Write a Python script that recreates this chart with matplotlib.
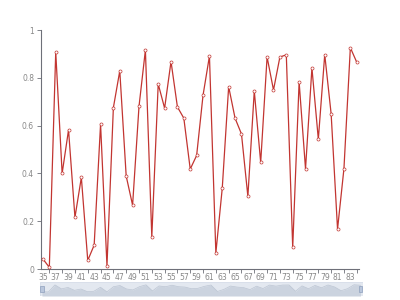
import matplotlib
matplotlib.use("Agg")
import matplotlib.pyplot as plt
from matplotlib.patches import Rectangle

categories = list(range(35, 85))
values = [0.042, 0.007, 0.908, 0.40, 0.582, 0.216, 0.383, 0.036, 0.10, 0.606,
          0.014, 0.675, 0.829, 0.389, 0.267, 0.68, 0.916, 0.134, 0.774, 0.673,
          0.868, 0.678, 0.631, 0.418, 0.475, 0.727, 0.891, 0.067, 0.338, 0.763,
          0.631, 0.565, 0.304, 0.745, 0.446, 0.887, 0.749, 0.887, 0.896, 0.09,
          0.783, 0.419, 0.841, 0.543, 0.897, 0.649, 0.167, 0.42, 0.926, 0.865]
y_ticks = [0, 0.2, 0.4, 0.6, 0.8, 1]
y_labels = ["0", "0.2", "0.4", "0.6", "0.8", "1"]

line_color = "#c23531"
axis_color = "#6e7079"
text_color = "#888888"

fig = plt.figure(figsize=(4, 3), dpi=100)
ax = fig.add_axes([0.1025, 0.1033, 0.795, 0.7967])
ax.plot(categories, values, color=line_color, lw=0.9, marker="o", ms=2.2,
        mfc="white", mec=line_color, mew=0.5, zorder=3, clip_on=False)
ax.set_xlim(34.7, 84.35)
ax.set_ylim(0, 1)
for s in ["top", "right"]:
    ax.spines[s].set_visible(False)
for s in ["left", "bottom"]:
    ax.spines[s].set_color(axis_color)
    ax.spines[s].set_linewidth(0.8)

ax.set_yticks(y_ticks)
ax.set_yticklabels(y_labels)
odd = [c for c in categories if c % 2 == 1]
even = [c for c in categories if c % 2 == 0]
ax.set_xticks(odd)
ax.set_xticklabels([str(c) for c in odd])
ax.set_xticks(even, minor=True)
ax.tick_params(axis="x", which="major", length=0, pad=3, labelsize=5.5, colors=text_color)
ax.tick_params(axis="x", which="minor", length=3, width=0.6, color=axis_color)
ax.tick_params(axis="y", which="major", length=3, width=0.6, color=axis_color, pad=2,
               labelsize=5.5, labelcolor=text_color)

# data zoom slider
sax = fig.add_axes([0.1, 0.0133, 0.807, 0.0467])
lo, hi = -0.513, 1.28
sax.set_xlim(34.7, 84.35)
sax.set_ylim(lo, hi)
sax.add_patch(Rectangle((34.7, lo), 84.35 - 34.7, hi - lo, facecolor="#e3e8f0",
                        edgecolor="#d5dce8", lw=0.6, zorder=0))
sax.fill_between(categories, values, lo, color="#cbd3df", lw=0, zorder=1)
sax.plot(categories, values, color="#bcc5d3", lw=0.5, zorder=2)
for hx in [35.0, 84.05]:
    sax.add_patch(Rectangle((hx - 0.25, 0.0), 0.5, 0.75, facecolor="#b9c6dc",
                            edgecolor="#8fa0bd", lw=0.5, zorder=3))
sax.axis("off")

fig.savefig("out.png", dpi=100)
